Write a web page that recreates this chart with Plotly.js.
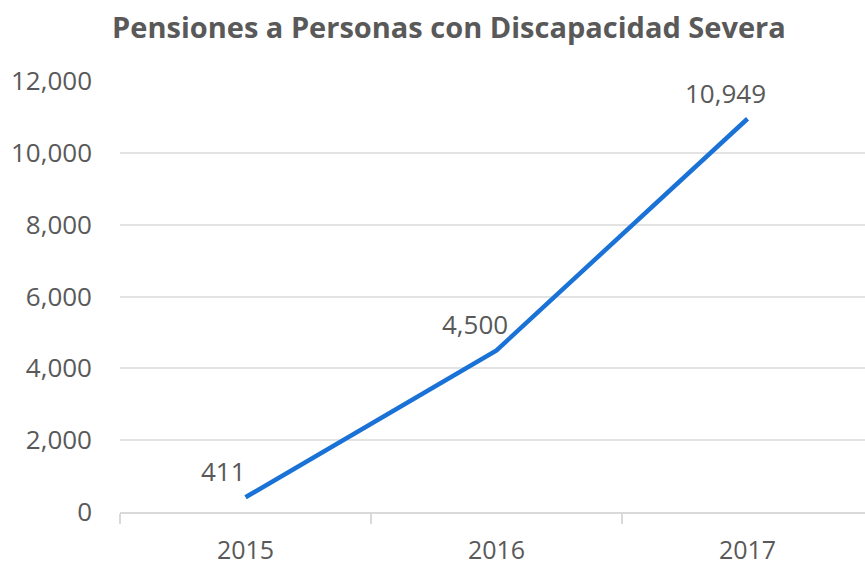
<!DOCTYPE html>
<html>
<head>
<meta charset="utf-8">
<script src="https://cdn.plot.ly/plotly-3.0.1.min.js"></script>
<style>
  html, body { margin: 0; padding: 0; background: #fff; }
  #chart { width: 865px; height: 565px; }
</style>
</head>
<body>
<div id="chart"></div>
<script>
const years = ['2015', '2016', '2017'];
const pensiones = [411, 4500, 10949];
const yTicks = [0, 2000, 4000, 6000, 8000, 10000, 12000];

const gray = '#595959';
const fontFamily = '"Open Sans", "Liberation Sans", sans-serif';

const trace = {
  x: years,
  y: pensiones,
  mode: 'lines',
  type: 'scatter',
  line: { color: '#1a72d6', width: 4.5 },
  hoverinfo: 'skip'
};

// data labels, placed above and a bit left of each point
const labels = years.map((yr, i) => ({
  xref: 'x',
  yref: 'y',
  x: i,
  y: pensiones[i],
  text: pensiones[i].toLocaleString('en-US'),
  showarrow: false,
  xanchor: 'center',
  yanchor: 'bottom',
  xshift: -22,
  yshift: 6,
  font: { family: fontFamily, size: 26, color: gray }
}));

const layout = {
  width: 865,
  height: 565,
  margin: { l: 120, r: 0, t: 81, b: 53 },
  paper_bgcolor: '#ffffff',
  plot_bgcolor: '#ffffff',
  showlegend: false,
  font: { family: fontFamily, color: gray },
  title: {
    text: '<b>Pensiones a Personas con Discapacidad Severa</b>',
    font: { family: fontFamily, size: 29, color: gray },
    x: 0.519,
    xanchor: 'center',
    y: 0.95,
    yanchor: 'middle'
  },
  xaxis: {
    type: 'category',
    range: [-0.5, 2.468],
    showgrid: false,
    zeroline: false,
    showline: true,
    linecolor: '#d9d9d9',
    linewidth: 1.5,
    ticks: 'outside',
    tickson: 'boundaries',
    ticklen: 10,
    tickcolor: '#d9d9d9',
    tickwidth: 1.5,
    ticklabelstandoff: 15,
    tickfont: { family: fontFamily, size: 25, color: gray }
  },
  yaxis: {
    range: [0, 12000],
    tickvals: yTicks,
    ticktext: yTicks.map(v => v.toLocaleString('en-US')),
    showgrid: true,
    gridcolor: '#e3e3e3',
    gridwidth: 1.5,
    zeroline: false,
    showline: false,
    ticks: '',
    ticklabelstandoff: 27,
    tickfont: { family: fontFamily, size: 26, color: gray }
  },
  annotations: labels
};

Plotly.newPlot('chart', [trace], layout, { displayModeBar: false });
</script>
</body>
</html>
